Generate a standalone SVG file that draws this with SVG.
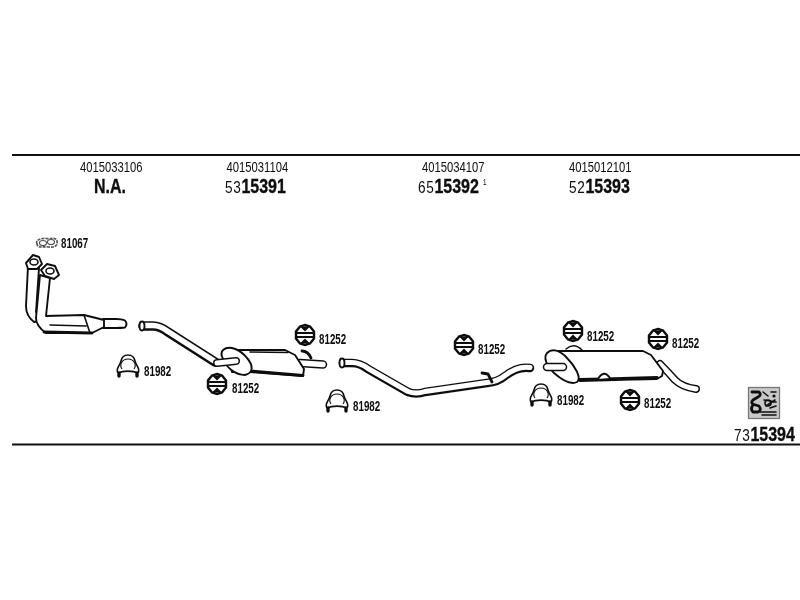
<svg xmlns="http://www.w3.org/2000/svg" xmlns:xlink="http://www.w3.org/1999/xlink" width="800" height="600" viewBox="0 0 800 600">
<style>
text{font-family:"Liberation Sans",Arial,sans-serif;fill:#0d0d0d}
.no{font-size:15px}
.big{font-size:20px;font-weight:bold;stroke:#0d0d0d;stroke-width:.35}
.pre{font-size:17px;font-weight:normal;letter-spacing:.8px;stroke:none}
.sup{font-size:9px;font-weight:normal}
.lab{font-size:14px;font-weight:bold}
.ln{fill:none;stroke:#111;stroke-width:1.6;stroke-linecap:round;stroke-linejoin:round}
.body{fill:#fff;stroke:#111;stroke-width:1.9;stroke-linejoin:round}
.thick{fill:none;stroke:#111;stroke-width:2.8;stroke-linecap:round;stroke-linejoin:round}
.po{fill:none;stroke:#111;stroke-linecap:round;stroke-linejoin:round}
.pi{fill:none;stroke:#fff;stroke-linecap:round;stroke-linejoin:round}
.blk{fill:#111}
</style>
<defs>
<filter id="soft" x="-5%" y="-5%" width="110%" height="110%"><feGaussianBlur stdDeviation="0.5"/></filter>
<g id="hanger">
<path d="M0-10 5-8.500 9-3.500 9 3.500 5 8.500 0 10-5 8.500-9 3.500-9-3.500-5-8.500Z" fill="#fff" stroke="#111" stroke-width="2.400"/>
<path d="M-8-2H8M-8 2H8" stroke="#111" stroke-width="1.800"/>
<path d="M-5-8.500 0-3.500 5-8.500ZM-5 8.500 0 3.500 5 8.500Z" class="blk"/>
<rect x="-4" y="-1" width="8" height="2" fill="#fff"/>
</g>
<g id="clamp">
<path d="M-10 7C-13 3-8 0-7-5-6-10-3-11 0-11S6-10 7-5C8 0 13 3 10 7" fill="#fff" stroke="#111" stroke-width="1.600"/>
<path d="M-10 7C-5 4.500 5 4.500 10 7" fill="none" stroke="#111" stroke-width="1.800"/>
<path d="M-6 3C-9-1-6-7 0-7S9-1 6 3" fill="none" stroke="#111" stroke-width="1.100"/>
<path d="M-9 7V10M9 7V10" stroke="#111" stroke-width="3.400" stroke-linecap="round"/>
</g>
</defs>
<g id="rules">
<path d="M12 155H800" stroke="#111" stroke-width="2.200"/>
<path d="M12 444.500H800" stroke="#111" stroke-width="2.200"/>
</g>
<g filter="url(#soft)">
<g id="header-1">
<text class="no" transform="translate(80 172) scale(.75 1)">4015033106</text>
<text class="big" transform="translate(94 193) scale(.8 1)">N.A.</text>
</g>
<g id="header-2">
<text class="no" transform="translate(226.500 172) scale(.75 1)">4015031104</text>
<text class="big" transform="translate(225 193) scale(.8 1)"><tspan class="pre">53</tspan>15391</text>
</g>
<g id="header-3">
<text class="no" transform="translate(422 172) scale(.75 1)">4015034107</text>
<text class="big" transform="translate(418 193) scale(.8 1)"><tspan class="pre">65</tspan>15392</text>
<text class="sup" transform="translate(483 185) scale(.7 1)">1</text>
</g>
<g id="header-4">
<text class="no" transform="translate(569 172) scale(.75 1)">4015012101</text>
<text class="big" transform="translate(569 193) scale(.8 1)"><tspan class="pre">52</tspan>15393</text>
</g>
<g id="gasket-81067">
<path d="M37 244C35 240 41 238 46 238.500S56 237 57 241 55 248 49 247 38 249 37 244Z" fill="#fff" stroke="#555" stroke-width="1.700" stroke-dasharray="3 1"/>
<ellipse cx="43" cy="243" rx="3.500" ry="2.500" fill="none" stroke="#555" stroke-width="1.200"/>
<ellipse cx="51" cy="242" rx="3.500" ry="2.500" fill="none" stroke="#555" stroke-width="1.200"/>
<text class="lab" transform="translate(61 248) scale(.7 1)">81067</text>
</g>
<g id="pipe-front">
<path class="body" d="M28 266 26 306Q26 316 34 322L42 320 36 312 39 268Z"/>
<path class="body" d="M103 319 116 319Q122 319 125 320.500 128 324 125 327.500 121 328 116 328L103 328Z"/>
<path class="body" d="M40 275 36 318Q36 326 46 333 L92 333 104 327 104 320 84 315 46 316 50 278Z"/>
<path class="thick" d="M44 332 92 333"/>
<path class="ln" d="M84 315 90 333M50 325 86 326" stroke-width="1.200"/>
<path class="body" stroke-width="2.400" d="M26 263 33 255 39 257 42 264 37 269 28 269Z"/>
<path class="body" stroke-width="2.400" d="M41 270 47 264 55 266 59 275 54 279 45 276Z"/>
<ellipse cx="34" cy="262" rx="4" ry="3" class="ln"/>
<ellipse cx="50" cy="271" rx="4" ry="3" class="ln"/>
</g>
<g id="pipe-middle">
<path class="po" stroke-width="9.500" d="M143 326H153Q160 326 168 332L215 362"/>
<path class="pi" stroke-width="5.500" transform="translate(0 -.5)" d="M143 326H153Q160 326 168 332L215 362"/>
<ellipse cx="142" cy="326" rx="2.500" ry="4.500" class="body"/>
</g>
<g id="muffler-front">
<path class="po" stroke-width="8.500" d="M300 363 323 364.500"/>
<path class="pi" stroke-width="5.500" d="M300 363 323 364.500"/>
<path class="body" d="M228 350 285 350 295 355 304 369 303 376 250 372 232 372Z"/>
<path class="thick" d="M250 371 303 375.500"/>
<path class="ln" d="M250 352 288 352.500" stroke-width="1"/>
<path class="body" d="M223 350C229 345 240 349 247 358 254 366 253 373 245 375 235 375 226 367 223 359 221 355 221 352 223 350Z"/>
<path class="po" stroke-width="8" d="M217 363 236 361"/>
<path class="pi" stroke-width="5" d="M217 363 236 361"/>
<path class="thick" stroke-width="3.600" d="M302 351Q308 351 311 358"/>
</g>
<g id="pipe-rear">
<path class="po" stroke-width="8.500" d="M343 363H352Q360 363 368 369L408 392Q416 395 425 392L487 383Q498 382 505 376 518 366 530 368"/>
<path class="pi" stroke-width="5" transform="translate(0 -.5)" d="M343 363H352Q360 363 368 369L408 392Q416 395 425 392L487 383Q498 382 505 376 518 366 530 368"/>
<ellipse cx="342" cy="363" rx="2.500" ry="4.500" class="body"/>
<path class="thick" stroke-width="3.800" d="M482 373 488 374 492 382"/>
</g>
<g id="muffler-rear">
<path class="po" stroke-width="8" d="M660 364Q668 372 675 380 682 387 696 389"/>
<path class="pi" stroke-width="5" d="M660 364Q668 372 675 380 682 387 696 389"/>
<path class="ln" d="M566 349Q574 342 582 350"/>
<path class="body" d="M552 351 643 351 651 355 663 371 662 376 657 379 580 381Z"/>
<path class="thick" d="M580 379.500 657 377.500"/>
<path class="body" d="M598 379Q604 369 610 378" stroke-width="2.200"/>
<path class="body" d="M547 353C552 348 560 350 567 358 575 366 582 378 577 382 571 385 562 380 554 373 547 366 543 358 547 353Z"/>
<path class="po" stroke-width="8.500" d="M547 367 563 367"/>
<path class="pi" stroke-width="5.500" d="M547 367 563 367"/>
</g>
<g id="hanger-1"><use xlink:href="#hanger" href="#hanger" x="217" y="384"/><text class="lab" transform="translate(232 393) scale(.7 1)">81252</text></g>
<g id="hanger-2"><use xlink:href="#hanger" href="#hanger" x="305" y="335"/><text class="lab" transform="translate(319 344) scale(.7 1)">81252</text></g>
<g id="hanger-3"><use xlink:href="#hanger" href="#hanger" x="464" y="345"/><text class="lab" transform="translate(478 354) scale(.7 1)">81252</text></g>
<g id="hanger-4"><use xlink:href="#hanger" href="#hanger" x="573" y="331"/><text class="lab" transform="translate(587 341) scale(.7 1)">81252</text></g>
<g id="hanger-5"><use xlink:href="#hanger" href="#hanger" x="658" y="339"/><text class="lab" transform="translate(672 348) scale(.7 1)">81252</text></g>
<g id="hanger-6"><use xlink:href="#hanger" href="#hanger" x="630" y="400"/><text class="lab" transform="translate(644 408) scale(.7 1)">81252</text></g>
<g id="clamp-1"><use xlink:href="#clamp" href="#clamp" x="128" y="366"/><text class="lab" transform="translate(144 376) scale(.7 1)">81982</text></g>
<g id="clamp-2"><use xlink:href="#clamp" href="#clamp" x="337" y="401"/><text class="lab" transform="translate(353 411) scale(.7 1)">81982</text></g>
<g id="clamp-3"><use xlink:href="#clamp" href="#clamp" x="541" y="395"/><text class="lab" transform="translate(557 405) scale(.7 1)">81982</text></g>
<g id="kit">
<rect x="748.500" y="387.500" width="31" height="31" fill="#c8c8c8" stroke="#777" stroke-width="1.300"/>
<path class="thick" stroke-width="2.800" d="M752 392H759Q762 395 758 397L753 400Q750 403 754 404.500L759 406Q762 410 758 412H753Q750 409 753 405"/>
<path class="ln" stroke-width="1.300" d="M763 392 768 396M771 392H776M764 400 776 402M766 406 775 400M770 408 776 406M760 412H776M762 415H776"/>
<circle cx="768" cy="403" r="3" class="ln" stroke-width="1"/>
<circle cx="774" cy="396" r="1.600" class="blk"/>
</g>
<g id="kit-number">
<text class="big" transform="translate(734 441) scale(.8 1)"><tspan class="pre">73</tspan>15394</text>
</g>
</g>
</svg>
